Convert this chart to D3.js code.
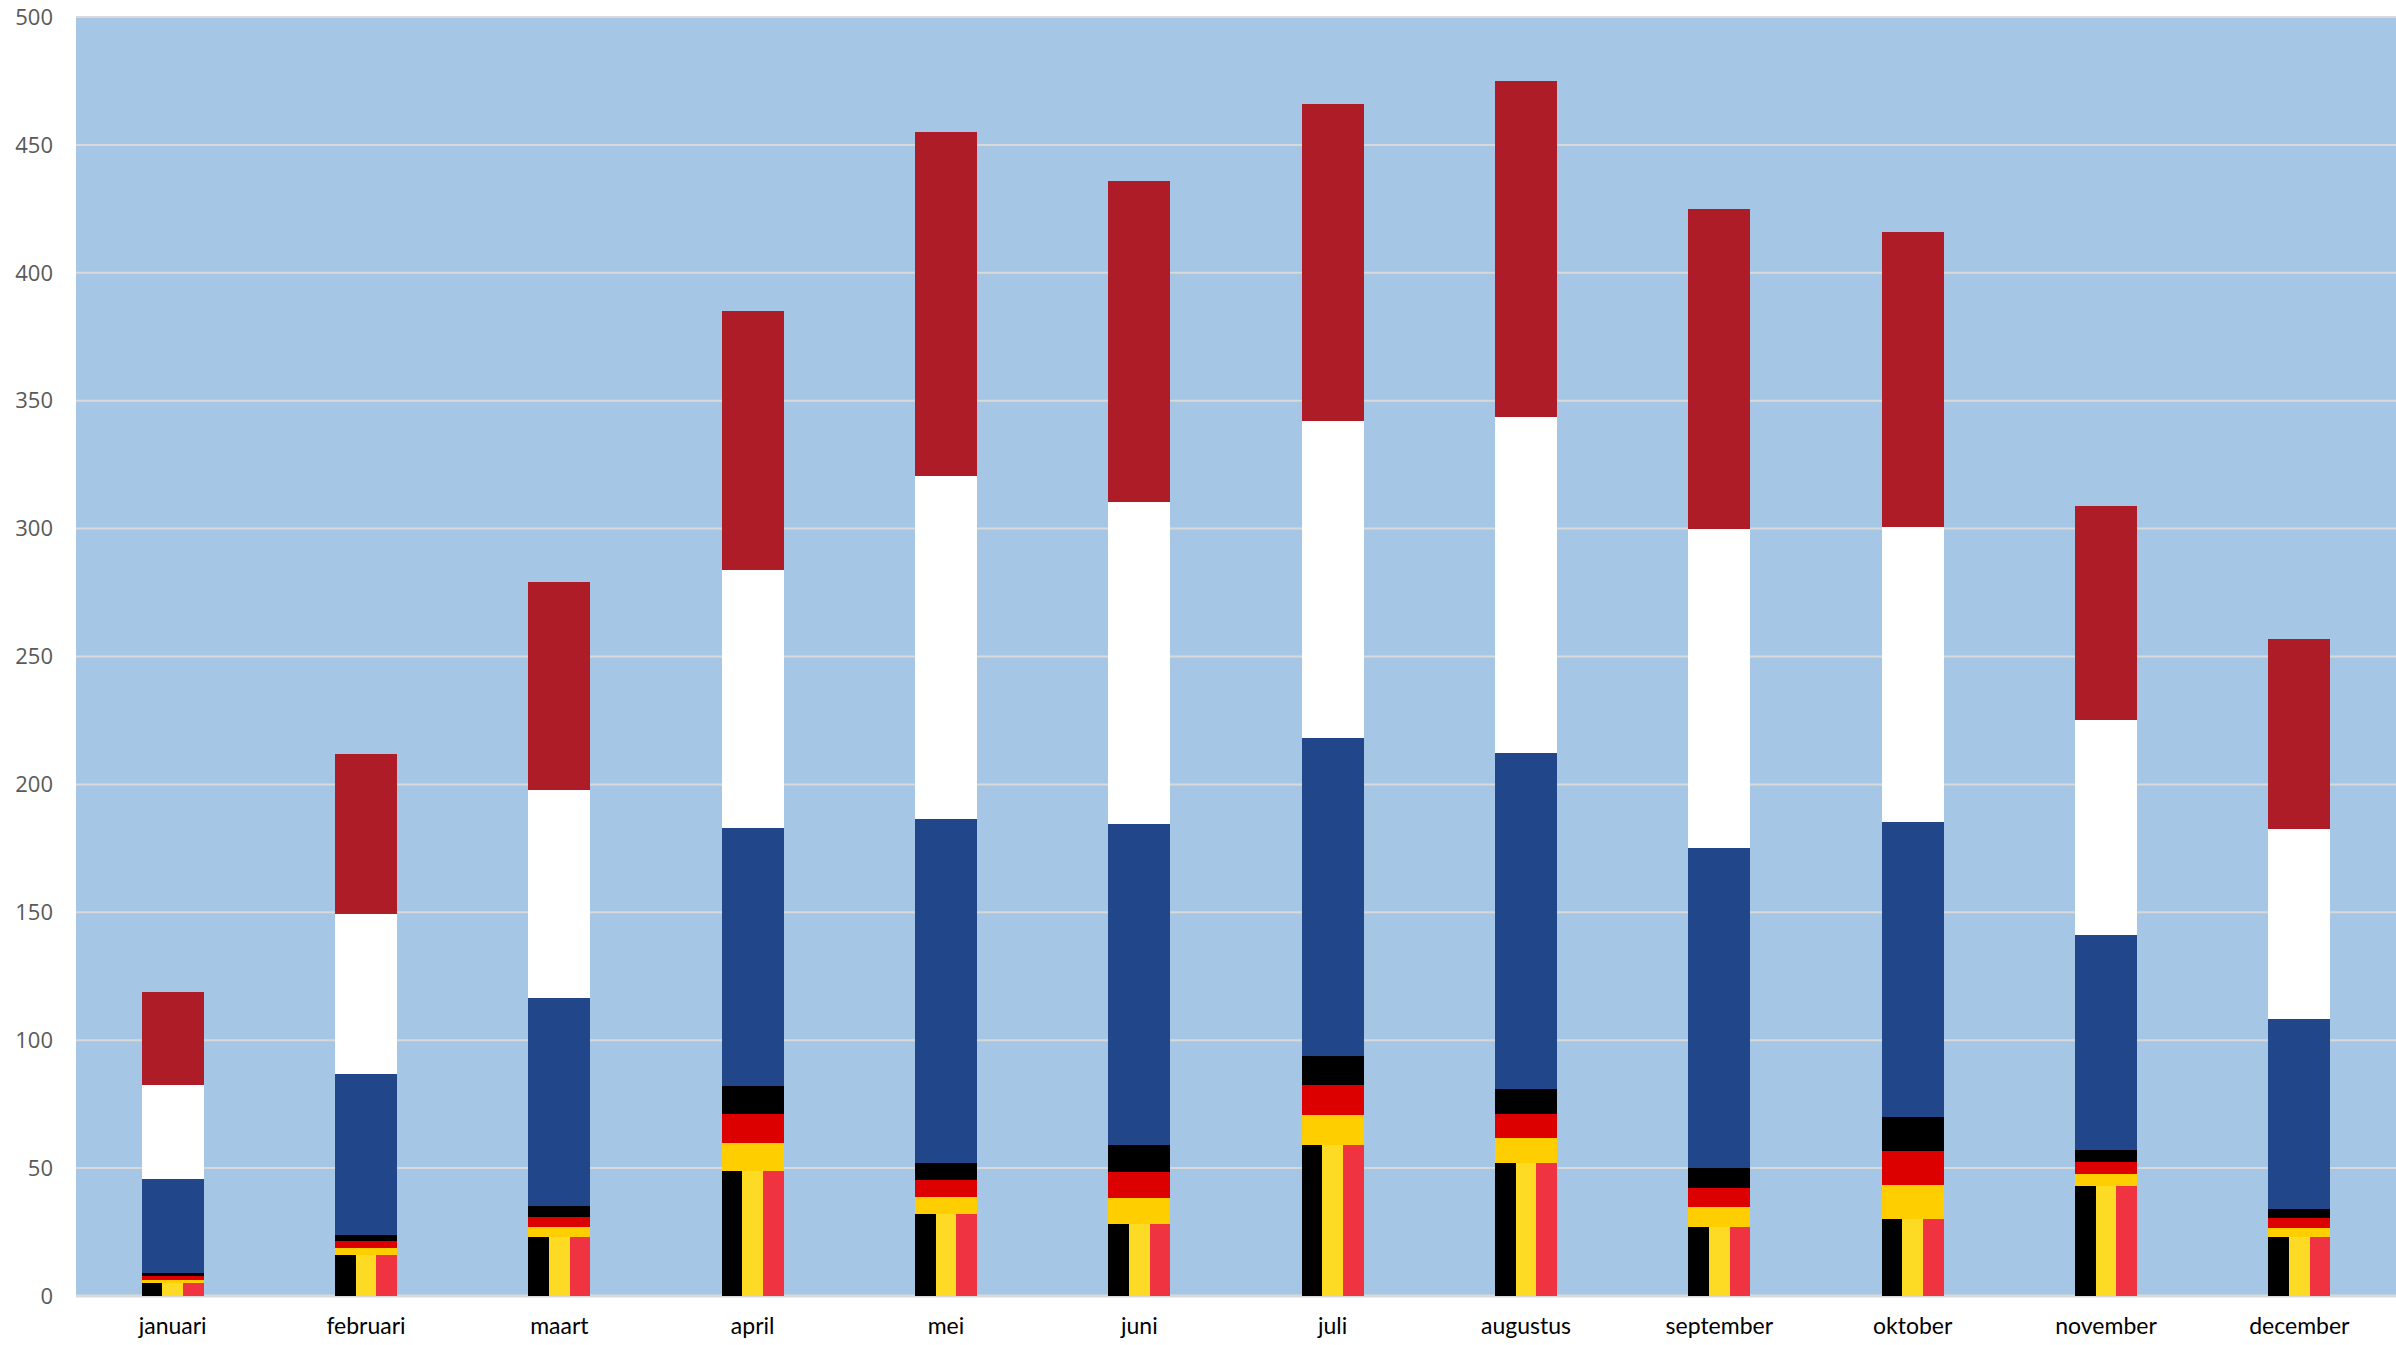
<!DOCTYPE html>
<html>
<head>
<meta charset="utf-8">
<script src="https://cdn.jsdelivr.net/npm/d3@7"></script>
<style>
  html, body { margin: 0; padding: 0; background: #ffffff; }
  svg { display: block; }
</style>
</head>
<body>
<svg id="chart" width="2396" height="1345"></svg>
<script>
const months = ["januari","februari","maart","april","mei","juni","juli","augustus","september","oktober","november","december"];
const belgium = [5, 16, 23, 49, 32, 28, 59, 52, 27, 30, 43, 23];
const germany = [4, 8, 12, 33, 20, 31, 35, 29, 23, 40, 14, 11];
const netherlands = [110, 188, 244, 303, 403, 377, 372, 394, 375, 346, 252, 223];
const yTicks = [0, 50, 100, 150, 200, 250, 300, 350, 400, 450, 500];

const beColors = ["#000000", "#FDDA24", "#EF3340"];          // vertical stripes, left→right
const deColors = ["#FFCE00", "#DD0000", "#000000"];          // horizontal bands, bottom→top
const nlColors = ["#22468A", "#FFFFFF", "#AE1C28"];          // horizontal bands, bottom→top

const W = 2396, H = 1345;
const m = { left: 76, right: 0, top: 17, bottom: 49 };
const svg = d3.select("#chart");

const x = d3.scaleBand().domain(months).range([m.left, W - m.right])
  .paddingInner(0.68).paddingOuter(0.34);
const y = d3.scaleLinear().domain([0, 500]).range([H - m.bottom, m.top]);

// plot background
svg.append("rect").attr("x", m.left).attr("y", m.top)
  .attr("width", W - m.right - m.left).attr("height", (H - m.bottom) - m.top)
  .attr("fill", "#A5C6E4");

// gridlines
svg.append("g").selectAll("line").data(yTicks).join("line")
  .attr("x1", m.left).attr("x2", W - m.right)
  .attr("y1", d => y(d)).attr("y2", d => y(d))
  .attr("stroke", "#D9D9D9").attr("stroke-width", d => d === 0 ? 3 : 2);

// y tick labels
svg.append("g").selectAll("text").data(yTicks).join("text")
  .attr("x", 53).attr("y", d => y(d)).attr("dy", "0.35em")
  .attr("text-anchor", "end")
  .attr("font-family", "'Open Sans', sans-serif").attr("font-size", 22)
  .attr("fill", "#595959").text(d => d);

// build segments
const horiz = [];
const vert = [];
months.forEach((mo, i) => {
  const be = belgium[i], de = germany[i], nl = netherlands[i];
  [0, 1, 2].forEach(k => vert.push({ month: mo, k, y0: 0, y1: be, color: beColors[k] }));
  [0, 1, 2].forEach(k => horiz.push({ month: mo, y0: be + de * k / 3, y1: be + de * (k + 1) / 3, color: deColors[k] }));
  [0, 1, 2].forEach(k => horiz.push({ month: mo, y0: be + de + nl * k / 3, y1: be + de + nl * (k + 1) / 3, color: nlColors[k] }));
});

const sub = d3.scaleBand().domain([0, 1, 2]).range([0, x.bandwidth()]);

svg.append("g").selectAll("rect").data(horiz).join("rect")
  .attr("x", d => x(d.month)).attr("width", x.bandwidth())
  .attr("y", d => y(d.y1)).attr("height", d => y(d.y0) - y(d.y1))
  .attr("fill", d => d.color)
  .attr("shape-rendering", "crispEdges");

svg.append("g").selectAll("rect").data(vert).join("rect")
  .attr("x", d => x(d.month) + sub(d.k)).attr("width", sub.bandwidth())
  .attr("y", d => y(d.y1)).attr("height", d => y(d.y0) - y(d.y1))
  .attr("fill", d => d.color)
  .attr("shape-rendering", "crispEdges");

// x labels
svg.append("g").selectAll("text").data(months).join("text")
  .attr("x", d => x(d) + x.bandwidth() / 2).attr("y", 1334)
  .attr("text-anchor", "middle")
  .attr("font-family", "Lato, 'Open Sans', sans-serif").attr("font-size", 23)
  .attr("fill", "#000000").text(d => d);
</script>
</body>
</html>
